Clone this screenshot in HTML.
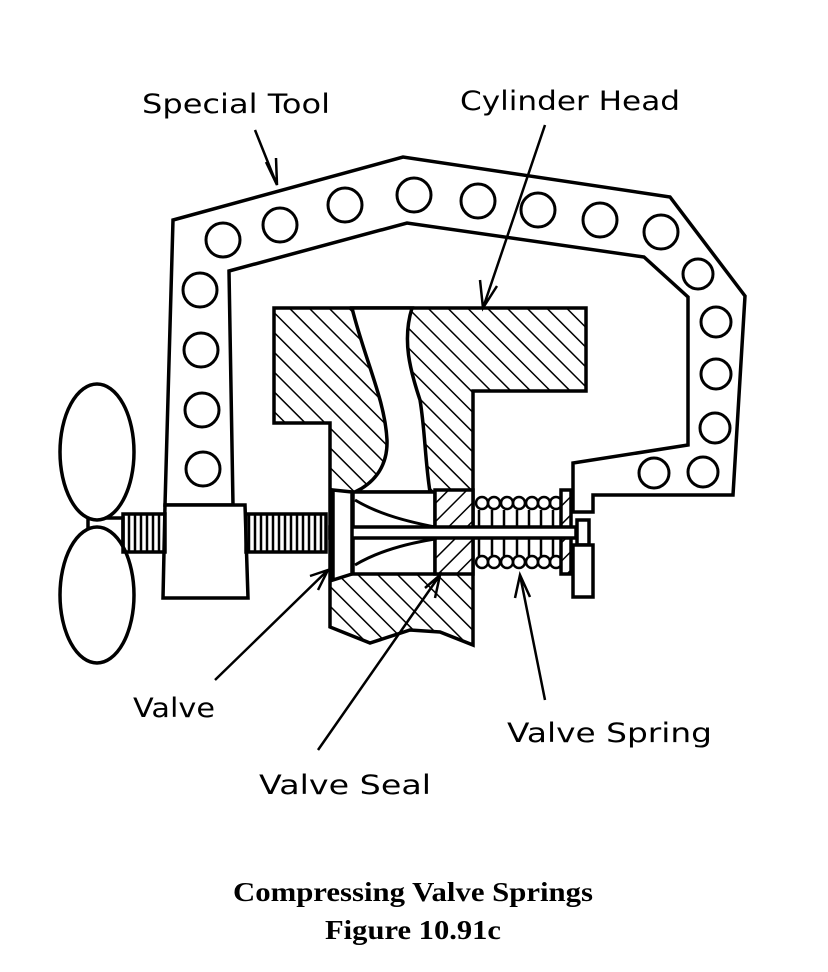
<!DOCTYPE html>
<html><head><meta charset="utf-8"><style>
html,body{margin:0;padding:0;background:#fff}
svg{display:block}
.l{font-family:"DejaVu Sans","Liberation Sans",sans-serif;font-size:27px;fill:#000}
.c{font-family:"Liberation Serif",serif;font-weight:bold;font-size:27px;fill:#000}
</style></head><body>
<svg width="828" height="972" viewBox="0 0 828 972" xmlns="http://www.w3.org/2000/svg">
<defs>
<pattern id="h1" patternUnits="userSpaceOnUse" width="14" height="14" patternTransform="rotate(-45)">
<line x1="0" y1="0" x2="0" y2="14" stroke="#000" stroke-width="3"/></pattern>
<pattern id="h2" patternUnits="userSpaceOnUse" width="13" height="13" patternTransform="rotate(45)">
<line x1="0" y1="0" x2="0" y2="13" stroke="#000" stroke-width="3"/></pattern>
<pattern id="th" patternUnits="userSpaceOnUse" width="6" height="10">
<line x1="3" y1="0" x2="3" y2="10" stroke="#000" stroke-width="2.5"/></pattern>
</defs>
<g fill="none" stroke="#000" stroke-width="3.5" stroke-linejoin="miter">
<path d="M165,505 L173,220 L403,157 L670,197 L745,296 L733,495 L593,495 L593,512 L573,512 L573,463 L688,445 L688,297 L644,257 L407,223 L229,271 L233,505 Z" fill="#fff"/>
<path d="M165,505 L245,505 L248,598 L163,598 Z" fill="#fff"/>
<g stroke-width="3">
<circle cx="223" cy="240" r="17"/><circle cx="280" cy="225" r="17"/><circle cx="345" cy="205" r="17"/>
<circle cx="414" cy="195" r="17"/><circle cx="478" cy="201" r="17"/><circle cx="538" cy="210" r="17"/>
<circle cx="600" cy="220" r="17"/><circle cx="661" cy="232" r="17"/><circle cx="698" cy="274" r="15"/>
<circle cx="716" cy="322" r="15"/><circle cx="716" cy="374" r="15"/><circle cx="715" cy="428" r="15"/>
<circle cx="703" cy="472" r="15"/><circle cx="654" cy="473" r="15"/>
<circle cx="200" cy="290" r="17"/><circle cx="201" cy="350" r="17"/><circle cx="202" cy="410" r="17"/><circle cx="203" cy="469" r="17"/>
</g>
<rect x="88" y="518" width="35" height="32" fill="#fff"/>
<ellipse cx="97" cy="452" rx="37" ry="68" fill="#fff"/>
<ellipse cx="97" cy="595" rx="37" ry="68" fill="#fff"/>
<rect x="123" y="514" width="42" height="38" fill="url(#th)"/>
<rect x="246" y="514" width="80" height="38" fill="url(#th)"/>
<path d="M274,308 L586,308 L586,391 L473,391 L473,645 L440,632 L410,630 L370,643 L330,627 L330,423 L274,423 Z" fill="url(#h1)"/>
<path d="M352,308 C365,360 385,400 387,440 C388,470 370,485 355,492 L430,492 C425,460 425,430 420,400 C410,370 402,340 412,308 Z" fill="#fff"/>
<rect x="353" y="492" width="82" height="82" fill="#fff"/>
<rect x="435" y="490" width="38" height="84" fill="#fff" stroke="none"/>
<rect x="435" y="490" width="38" height="84" fill="url(#h2)"/>
<g stroke-width="2.5">
<circle cx="482" cy="503" r="6"/><circle cx="494" cy="503" r="6"/><circle cx="507" cy="503" r="6"/><circle cx="519" cy="503" r="6"/><circle cx="532" cy="503" r="6"/><circle cx="544" cy="503" r="6"/><circle cx="556" cy="503" r="6"/>
<circle cx="482" cy="562" r="6"/><circle cx="494" cy="562" r="6"/><circle cx="507" cy="562" r="6"/><circle cx="519" cy="562" r="6"/><circle cx="532" cy="562" r="6"/><circle cx="544" cy="562" r="6"/><circle cx="556" cy="562" r="6"/>
<path d="M479,510V526M492,510V526M504,510V526M517,510V526M529,510V526M541,510V526M553,510V526M479,539V556M492,539V556M504,539V556M517,539V556M529,539V556M541,539V556M553,539V556"/>
</g>
<rect x="561" y="490" width="10" height="84" fill="#fff" stroke="none"/>
<rect x="561" y="490" width="10" height="84" fill="url(#h2)"/>
<rect x="330" y="527" width="246" height="11" fill="#fff"/>
<rect x="577" y="520" width="12" height="25" fill="#fff"/>
<rect x="573" y="545" width="20" height="52" fill="#fff"/>
<path d="M355,500 C380,515 410,522 435,527 M355,565 C380,550 410,543 435,539" stroke-width="3"/>
<path d="M333,490 L352,492 L352,574 L333,580 Z" fill="#fff"/>
<g stroke-width="2.5">
<path d="M255,130 L277,185 M266,162 L277,185 L276,158"/>
<path d="M545,125 L483,308 M480,280 L483,308 L497,286"/>
<path d="M215,680 L328,570 M310,576 L328,570 L318,590"/>
<path d="M318,750 L440,575 M425,588 L440,575 L435,598"/>
<path d="M545,700 L520,575 M515,598 L520,575 L530,597"/>
</g>
</g>
<text class="l" x="142" y="113" textLength="188" lengthAdjust="spacingAndGlyphs">Special Tool</text>
<text class="l" x="460" y="110" textLength="220" lengthAdjust="spacingAndGlyphs">Cylinder Head</text>
<text class="l" x="133" y="717" textLength="82" lengthAdjust="spacingAndGlyphs">Valve</text>
<text class="l" x="507" y="742" textLength="205" lengthAdjust="spacingAndGlyphs">Valve Spring</text>
<text class="l" x="259" y="794" textLength="172" lengthAdjust="spacingAndGlyphs">Valve Seal</text>
<text class="c" x="413" y="901" text-anchor="middle" textLength="360" lengthAdjust="spacingAndGlyphs">Compressing Valve Springs</text>
<text class="c" x="413" y="939" text-anchor="middle" textLength="176" lengthAdjust="spacingAndGlyphs">Figure 10.91c</text>
</svg>
</body></html>
